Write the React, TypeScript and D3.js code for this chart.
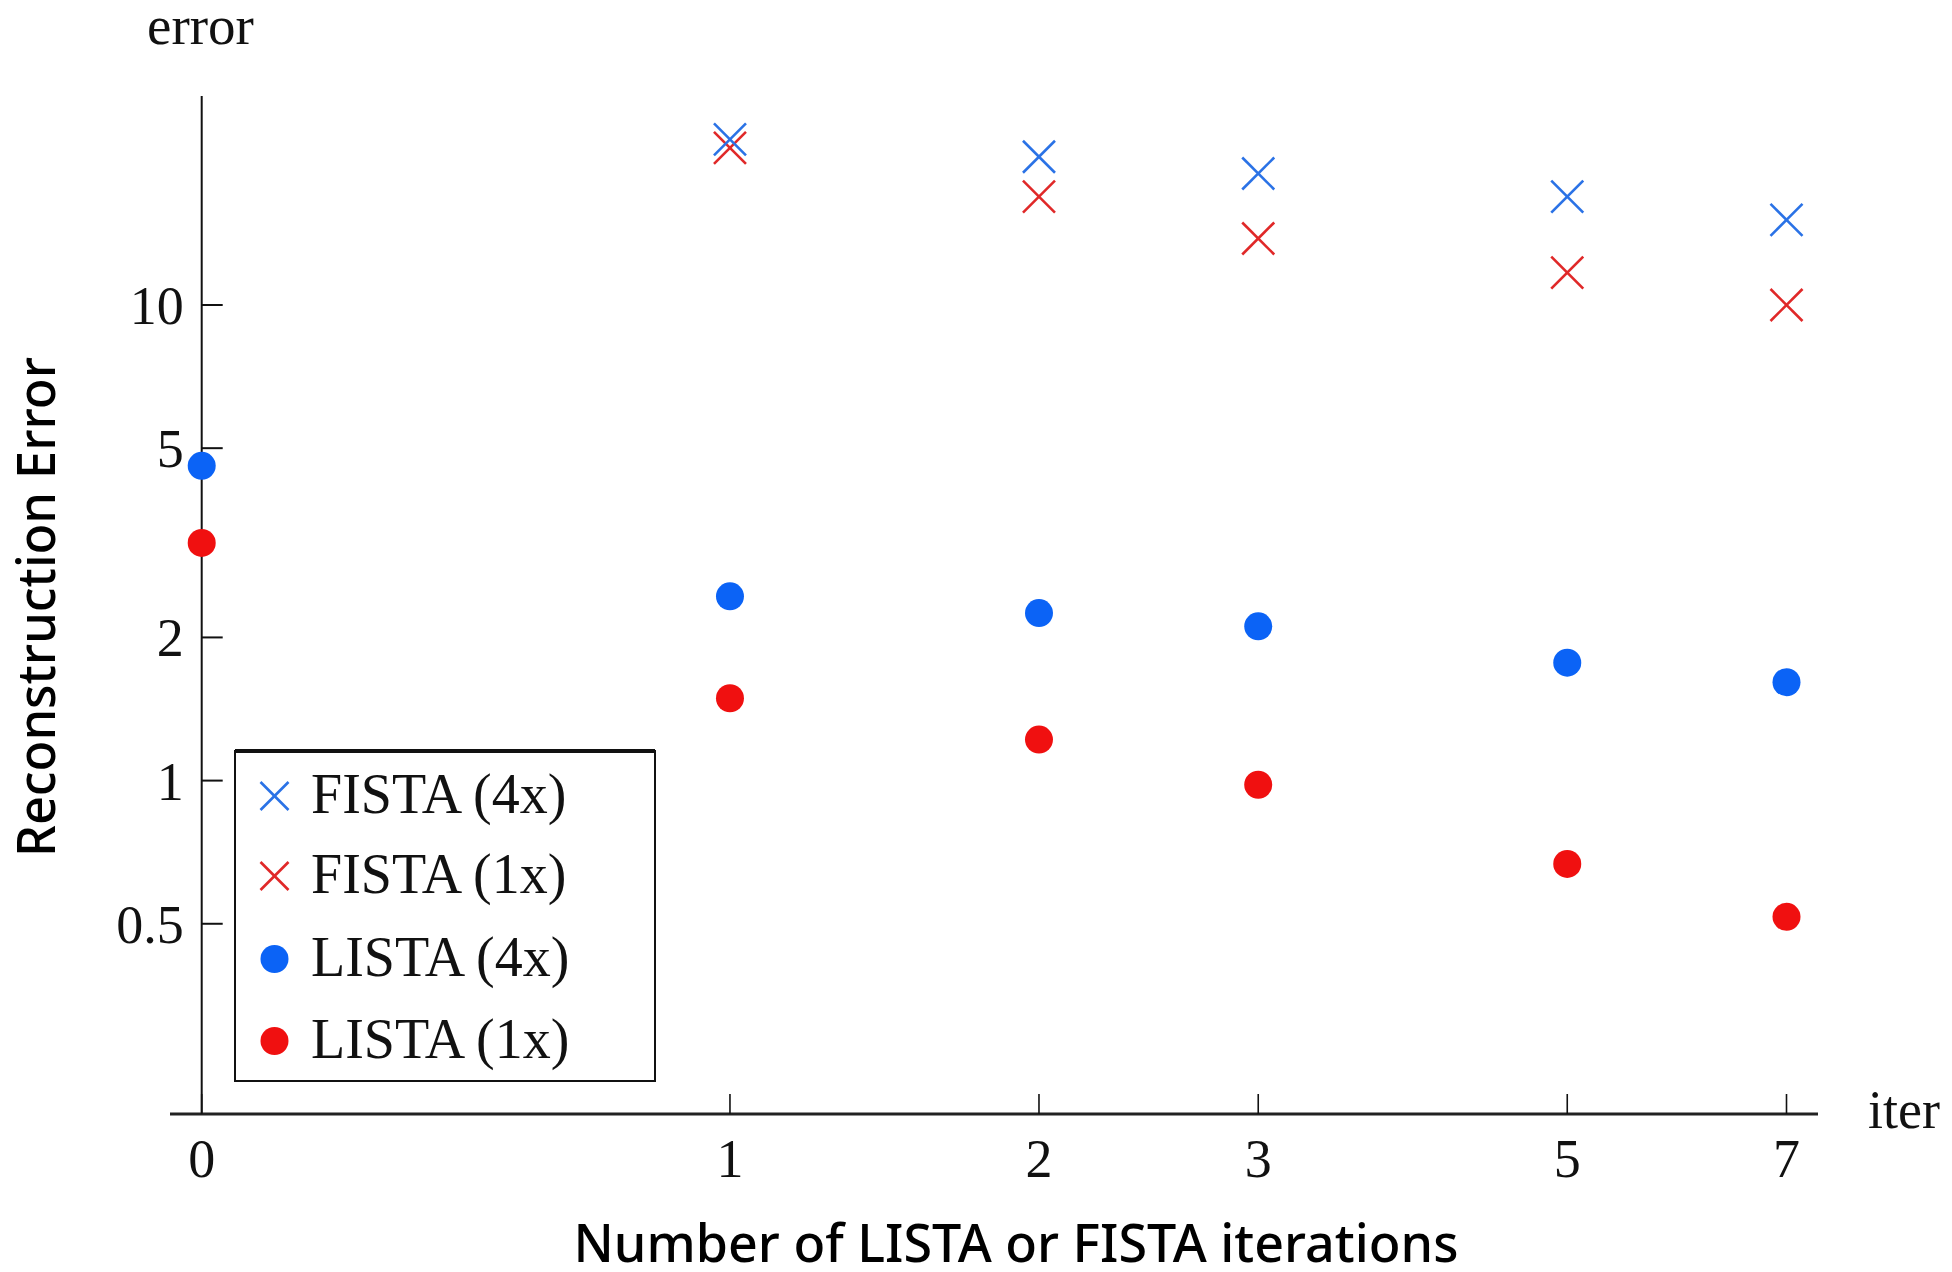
import React from "react";
import * as d3 from "d3";

const iterations = [0, 1, 2, 3, 5, 7];
const fistaIters = [1, 2, 3, 5, 7];
const fista4x = [22.3, 20.5, 18.9, 16.9, 15.1];
const fista1x = [21.4, 16.9, 13.8, 11.7, 10.0];
const lista4x = [4.59, 2.44, 2.25, 2.11, 1.77, 1.61];
const lista1x = [3.16, 1.49, 1.22, 0.98, 0.668, 0.517];
const yTicks = [10, 5, 2, 1, 0.5];
const yTickLabels = ["10", "5", "2", "1", "0.5"];
const legendLabels = ["FISTA (4x)", "FISTA (1x)", "LISTA (4x)", "LISTA (1x)"];

const BLUE_X = "#2a72e6";
const RED_X = "#e02828";
const BLUE_C = "#0b63f6";
const RED_C = "#f01010";

const serif = "'Liberation Serif', 'DejaVu Serif', serif";
const sans = "'Noto Sans', 'Open Sans', sans-serif";

function Cross({ cx, cy, color, size = 16 }: { cx: number; cy: number; color: string; size?: number }) {
  return (
    <g stroke={color} strokeWidth={2.6} strokeLinecap="butt">
      <line x1={cx - size} y1={cy - size} x2={cx + size} y2={cy + size} />
      <line x1={cx - size} y1={cy + size} x2={cx + size} y2={cy - size} />
    </g>
  );
}

export default function App() {
  const x = d3.scaleLog().domain([1, 8]).range([201.7, 1786.5]);
  const y = d3.scaleLog().domain([1, 10]).range([780.6, 305]);
  const xp = (it: number) => x(it + 1);

  const axisX = 201.7;
  const axisY = 1114;
  const axisTop = 96;

  const legend = { x: 235, y: 751, w: 420, h: 330 };
  const rowYs = [796, 876, 959, 1041];

  return (
    <svg
      width={1952}
      height={1272}
      style={{ position: "absolute", left: 0, top: 0, background: "#fff" }}
    >
      <rect x={0} y={0} width={1952} height={1272} fill="#fff" />
      {/* axes */}
      <line x1={axisX} y1={axisTop} x2={axisX} y2={axisY} stroke="#111" strokeWidth={2} />
      <line x1={170} y1={axisY} x2={1818} y2={axisY} stroke="#222" strokeWidth={3} />

      {/* y ticks */}
      {yTicks.map((t, i) => (
        <g key={"yt" + t}>
          <line x1={axisX} y1={y(t)} x2={axisX + 21} y2={y(t)} stroke="#111" strokeWidth={2} />
          <text
            x={axisX - 18}
            y={y(t)}
            dy="0.35em"
            textAnchor="end"
            fontFamily={serif}
            fontSize={54}
            fill="#111"
          >
            {yTickLabels[i]}
          </text>
        </g>
      ))}

      {/* x ticks */}
      {iterations.map((it) => (
        <g key={"xt" + it}>
          <line x1={xp(it)} y1={axisY} x2={xp(it)} y2={axisY - 20} stroke="#111" strokeWidth={1.6} />
          <text
            x={xp(it)}
            y={1177}
            textAnchor="middle"
            fontFamily={serif}
            fontSize={54}
            fill="#111"
          >
            {String(it)}
          </text>
        </g>
      ))}

      {/* axis end labels */}
      <text x={147} y={44} fontFamily={serif} fontSize={55} fill="#111">
        error
      </text>
      <text x={1868} y={1128} fontFamily={serif} fontSize={54} fill="#111">
        iter
      </text>

      {/* titles */}
      <text
        x={1016}
        y={1262}
        textAnchor="middle"
        fontFamily={sans}
        fontWeight={500}
        fontSize={52}
        fill="#000"
        textLength={885}
        lengthAdjust="spacingAndGlyphs"
      >
        Number of LISTA or FISTA iterations
      </text>
      <text
        transform="translate(55,607) rotate(-90)"
        textAnchor="middle"
        fontFamily={sans}
        fontWeight={500}
        fontSize={52}
        fill="#000"
        textLength={500}
        lengthAdjust="spacingAndGlyphs"
      >
        Reconstruction Error
      </text>

      {/* data */}
      {lista4x.map((v, i) => (
        <circle key={"l4" + i} cx={xp(iterations[i])} cy={y(v)} r={14} fill={BLUE_C} />
      ))}
      {lista1x.map((v, i) => (
        <circle key={"l1" + i} cx={xp(iterations[i])} cy={y(v)} r={14} fill={RED_C} />
      ))}
      {fista1x.map((v, i) => (
        <Cross key={"f1" + i} cx={xp(fistaIters[i])} cy={y(v)} color={RED_X} />
      ))}
      {fista4x.map((v, i) => (
        <Cross key={"f4" + i} cx={xp(fistaIters[i])} cy={y(v)} color={BLUE_X} />
      ))}

      {/* legend */}
      <rect x={legend.x} y={legend.y} width={legend.w} height={legend.h} fill="#fff" stroke="#111" strokeWidth={2} />
      <line x1={legend.x} y1={legend.y} x2={legend.x + legend.w} y2={legend.y} stroke="#111" strokeWidth={4} />
      {legendLabels.map((lab, i) => (
        <g key={"lg" + i}>
          {i === 0 && <Cross cx={274.5} cy={rowYs[i]} color={BLUE_X} size={14} />}
          {i === 1 && <Cross cx={274.5} cy={rowYs[i]} color={RED_X} size={14} />}
          {i === 2 && <circle cx={274.5} cy={rowYs[i]} r={14} fill={BLUE_C} />}
          {i === 3 && <circle cx={274.5} cy={rowYs[i]} r={14} fill={RED_C} />}
          <text x={311} y={rowYs[i] + 17} fontFamily={serif} fontSize={56} fill="#111">
            {lab}
          </text>
        </g>
      ))}
    </svg>
  );
}
